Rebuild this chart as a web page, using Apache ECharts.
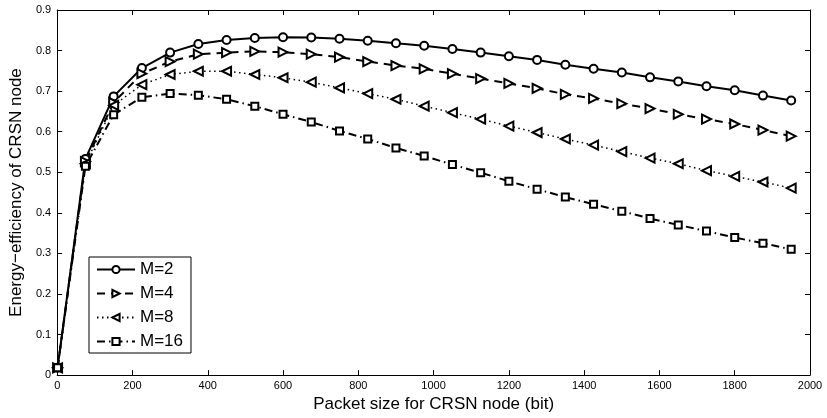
<!DOCTYPE html>
<html>
<head>
<meta charset="utf-8">
<script src="https://cdn.jsdelivr.net/npm/echarts@6/dist/echarts.min.js"></script>
<style>
  html, body { margin: 0; padding: 0; background: #fff; }
  #chart { width: 827px; height: 418px; }
</style>
</head>
<body>
<div id="chart"></div>
<script>
// packet sizes (bit)
const packetSize = [1, 75, 150, 225, 300, 375, 450, 525, 600, 675, 750, 825, 900, 975,
  1050, 1125, 1200, 1275, 1350, 1425, 1500, 1575, 1650, 1725, 1800, 1875, 1950]

const effM2 = [0.018, 0.533, 0.687, 0.757, 0.795, 0.816, 0.826, 0.831, 0.833, 0.832, 0.829,
  0.824, 0.818, 0.812, 0.804, 0.795, 0.786, 0.777, 0.765, 0.755, 0.746, 0.734, 0.724,
  0.712, 0.702, 0.689, 0.677]
const effM4 = [0.018, 0.526, 0.672, 0.743, 0.773, 0.791, 0.795, 0.798, 0.796, 0.791, 0.784,
  0.773, 0.763, 0.755, 0.743, 0.731, 0.719, 0.707, 0.692, 0.682, 0.669, 0.657, 0.643,
  0.631, 0.619, 0.604, 0.589]
const effM8 = [0.018, 0.521, 0.665, 0.716, 0.741, 0.749, 0.749, 0.741, 0.733, 0.722, 0.708,
  0.694, 0.680, 0.663, 0.647, 0.631, 0.614, 0.598, 0.582, 0.567, 0.551, 0.535, 0.521,
  0.504, 0.490, 0.476, 0.461]
const effM16 = [0.018, 0.515, 0.642, 0.685, 0.694, 0.690, 0.680, 0.663, 0.643, 0.624, 0.602,
  0.582, 0.560, 0.540, 0.519, 0.499, 0.478, 0.458, 0.439, 0.421, 0.404, 0.386, 0.370,
  0.355, 0.339, 0.325, 0.310]

const seriesNames = ['M=2', 'M=4', 'M=8', 'M=16']

function pairs(ys) {
  return packetSize.map((x, i) => [x, ys[i]])
}

const font = 'Liberation Sans, Arial, Helvetica, sans-serif'
const tickStyle = { inside: true, length: 5, lineStyle: { color: '#000' } }
const lineAx = { show: true, onZero: false, lineStyle: { color: '#000', width: 1 } }

const chart = echarts.init(document.getElementById('chart'))
chart.setOption({
  animation: false,
  backgroundColor: '#fff',
  textStyle: { fontFamily: font },
  grid: { left: 56, right: 17, top: 10, bottom: 40 },
  legend: {
    data: seriesNames,
    orient: 'vertical',
    left: 89,
    top: 257,
    backgroundColor: '#fff',
    borderColor: '#000',
    borderWidth: 1,
    borderRadius: 0,
    padding: [4, 8, 3, 7],
    itemWidth: 38,
    itemHeight: 9,
    itemGap: 7,
    textStyle: { fontSize: 17, color: '#000', fontFamily: font }
  },
  xAxis: [{
    type: 'value',
    min: 0,
    max: 2000,
    interval: 200,
    name: 'Packet size for CRSN node (bit)',
    nameLocation: 'middle',
    nameGap: 20,
    nameTextStyle: { fontSize: 17, color: '#000' },
    axisLine: lineAx,
    axisTick: tickStyle,
    axisLabel: { fontSize: 11, color: '#000', margin: 5, formatter: v => String(v) },
    splitLine: { show: false }
  }, {
    type: 'value',
    position: 'top',
    min: 0,
    max: 2000,
    interval: 200,
    axisLine: lineAx,
    axisTick: tickStyle,
    axisLabel: { show: false },
    splitLine: { show: false }
  }],
  yAxis: [{
    type: 'value',
    min: 0,
    max: 0.9,
    interval: 0.1,
    name: 'Energy\u2212efficiency of CRSN node',
    nameLocation: 'middle',
    nameGap: 32,
    nameTextStyle: { fontSize: 17, color: '#000' },
    axisLine: lineAx,
    axisTick: tickStyle,
    axisLabel: { fontSize: 11, color: '#000', margin: 6 },
    splitLine: { show: false }
  }, {
    type: 'value',
    position: 'right',
    min: 0,
    max: 0.9,
    interval: 0.1,
    axisLine: lineAx,
    axisTick: tickStyle,
    axisLabel: { show: false },
    splitLine: { show: false }
  }],
  series: [{
    name: 'M=2',
    type: 'line',
    data: pairs(effM2),
    symbol: 'circle',
    symbolSize: 8,
    itemStyle: { color: '#fff', borderColor: '#000', borderWidth: 2 },
    lineStyle: { color: '#000', width: 2, type: 'solid' }
  }, {
    name: 'M=4',
    type: 'line',
    data: pairs(effM4),
    symbol: 'triangle',
    symbolRotate: -90,
    symbolSize: 9,
    itemStyle: { color: '#fff', borderColor: '#000', borderWidth: 2 },
    lineStyle: { color: '#000', width: 2, type: [8, 6] }
  }, {
    name: 'M=8',
    type: 'line',
    data: pairs(effM8),
    symbol: 'triangle',
    symbolRotate: 90,
    symbolSize: 9,
    itemStyle: { color: '#fff', borderColor: '#000', borderWidth: 2 },
    lineStyle: { color: '#000', width: 1.5, type: [1.5, 3.5] }
  }, {
    name: 'M=16',
    type: 'line',
    data: pairs(effM16),
    symbol: 'rect',
    symbolSize: 7,
    itemStyle: { color: '#fff', borderColor: '#000', borderWidth: 2 },
    lineStyle: { color: '#000', width: 2, type: [8, 4, 1.5, 4] }
  }]
})
</script>
</body>
</html>
